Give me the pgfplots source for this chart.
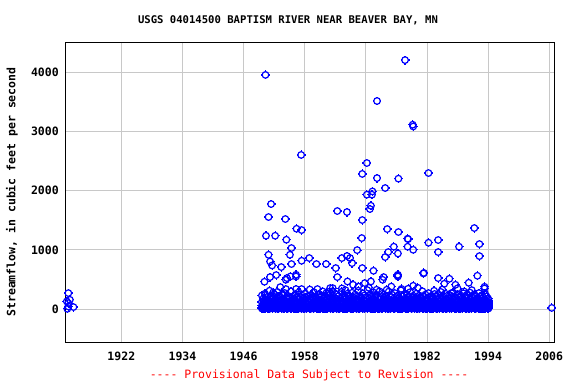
\documentclass[border=0pt]{standalone}
\usepackage{pgfplots}
\usepackage{pgfplotstable}
\pgfplotsset{compat=1.18}
\usepackage{fontspec}
\setmonofont{DejaVu Sans Mono}
\definecolor{gridgray}{RGB}{200,200,200}
\definecolor{ptblue}{RGB}{0,0,255}
\definecolor{revred}{RGB}{255,0,0}

\pgfdeclareplotmark{tcirc}{%
  \pgfpathcircle{\pgfpointorigin}{\pgfplotmarksize}%
  \pgfusepathqstroke
  \pgfpathmoveto{\pgfpoint{0pt}{\pgfplotmarksize}}\pgfpathlineto{\pgfpoint{0pt}{1.35\pgfplotmarksize}}%
  \pgfpathmoveto{\pgfpoint{0pt}{-\pgfplotmarksize}}\pgfpathlineto{\pgfpoint{0pt}{-1.35\pgfplotmarksize}}%
  \pgfpathmoveto{\pgfpoint{\pgfplotmarksize}{0pt}}\pgfpathlineto{\pgfpoint{1.35\pgfplotmarksize}{0pt}}%
  \pgfpathmoveto{\pgfpoint{-\pgfplotmarksize}{0pt}}\pgfpathlineto{\pgfpoint{-1.35\pgfplotmarksize}{0pt}}%
  \pgfusepathqstroke}

\pgfplotstableread{
t a b c d e
1949.6 10 55 120 230 30
1949.9 15 70 140 180 95
1950.2 8 45 110 260 25
1950.5 20 80 150 200 110
1950.8 12 60 95 170 35
1951.1 5 50 130 310 90
1951.4 18 75 160 220 28
1951.7 10 40 100 190 105
1952.0 25 85 145 250 40
1952.3 7 55 115 175 85
1952.6 14 65 135 290 30
1952.9 9 50 105 210 115
1953.2 22 70 150 185 35
1953.5 11 60 125 240 90
1953.8 6 45 100 165 25
1954.1 16 80 140 270 100
1954.4 13 55 120 200 38
1954.7 8 65 155 225 88
1955.0 19 50 110 180 30
1955.3 10 75 130 300 110
1955.6 24 60 145 210 33
1955.9 7 45 100 170 95
1956.2 15 70 135 250 27
1956.5 12 55 120 195 105
1956.8 9 85 160 280 40
1957.1 20 60 115 205 90
1957.4 6 50 140 230 30
1957.7 17 75 125 180 100
1958.0 11 65 150 260 35
1958.3 8 45 105 190 85
1958.6 21 80 135 220 28
1958.9 13 55 120 175 110
1959.2 5 70 145 240 38
1959.5 18 60 110 200 92
1959.8 10 50 130 285 30
1960.1 23 75 155 215 100
1960.4 9 45 100 180 35
1960.7 14 65 140 250 88
1961.0 7 55 115 195 27
1961.3 19 80 150 230 105
1961.6 12 60 125 170 40
1961.9 6 45 105 210 95
1962.2 16 70 140 265 30
1962.5 11 55 120 190 110
1962.8 25 85 160 240 33
1963.1 8 50 110 175 90
1963.4 15 65 135 300 28
1963.7 10 75 145 205 100
1964.0 20 55 115 185 38
1964.3 7 45 130 250 85
1964.6 13 70 150 220 30
1964.9 9 60 100 175 108
1965.2 22 80 140 290 35
1965.5 12 50 125 200 92
1965.8 6 65 155 235 27
1966.1 17 55 110 185 100
1966.4 10 75 135 260 40
1966.7 24 60 120 210 88
1967.0 8 45 145 180 30
1967.3 15 70 130 275 110
1967.6 11 55 105 195 35
1967.9 19 85 160 245 95
1968.2 7 50 115 170 28
1968.5 14 65 140 310 105
1968.8 9 75 150 220 38
1969.1 21 60 125 190 90
1969.4 12 45 100 265 30
1969.7 6 70 145 230 100
1970.0 18 55 135 200 33
1970.3 10 80 155 320 85
1970.6 23 60 120 185 27
1970.9 8 50 140 250 110
1971.2 16 75 110 215 40
1971.5 13 65 130 280 92
1971.8 9 45 150 195 30
1972.1 20 70 125 240 100
1972.4 11 55 105 175 35
1972.7 7 85 160 300 88
1973.0 15 60 115 205 28
1973.3 12 50 140 260 108
1973.6 22 75 130 190 38
1973.9 8 65 150 225 95
1974.2 17 45 110 180 30
1974.5 10 70 135 295 105
1974.8 6 55 120 210 35
1975.1 19 80 145 245 90
1975.4 13 60 100 175 27
1975.7 9 50 140 270 100
1976.0 24 75 155 200 40
1976.3 11 65 125 230 85
1976.6 7 45 110 185 30
1976.9 15 70 135 315 110
1977.2 10 55 150 215 33
1977.5 20 85 120 250 92
1977.8 8 60 105 180 28
1978.1 14 50 145 240 100
1978.4 12 75 130 205 38
1978.7 18 65 160 285 88
1979.0 6 45 115 190 30
1979.3 21 70 140 225 105
1979.6 9 55 125 175 35
1979.9 16 80 150 260 95
1980.2 11 60 110 200 27
1980.5 7 50 135 230 108
1980.8 23 75 145 185 40
1981.1 13 65 120 300 90
1981.4 8 45 100 210 30
1981.7 17 70 155 245 100
1982.0 10 55 130 180 35
1982.3 25 85 140 270 85
1982.6 9 60 115 195 28
1982.9 14 50 150 225 110
1983.2 12 75 125 175 38
1983.5 19 65 105 255 92
1983.8 6 45 140 205 30
1984.1 15 70 160 240 100
1984.4 11 55 120 185 33
1984.7 22 80 135 290 88
1985.0 8 60 110 215 27
1985.3 16 50 145 190 105
1985.6 10 75 130 260 40
1985.9 7 65 150 220 95
1986.2 20 45 115 180 30
1986.5 13 70 125 235 110
1986.8 9 55 140 200 35
1987.1 18 85 105 275 90
1987.4 12 60 155 210 28
1987.7 6 50 120 185 100
1988.0 24 75 135 250 38
1988.3 10 65 145 195 85
1988.6 15 45 110 230 30
1988.9 8 70 130 175 108
1989.2 21 55 150 265 35
1989.5 11 80 125 205 95
1989.8 7 60 100 240 27
1990.1 17 50 140 185 100
1990.4 13 75 160 280 40
1990.7 9 65 115 210 88
1991.0 19 45 135 195 30
1991.3 12 70 120 250 105
1991.6 6 55 145 220 33
1991.9 23 85 130 180 92
1992.2 10 60 110 270 28
1992.5 14 50 150 205 110
1992.8 8 75 125 235 38
1993.1 16 65 140 190 90
1993.4 11 45 105 260 30
1993.7 20 70 135 215 100
1994.0 9 55 120 180 35
1994.1 15 40 90 150 80
}\band

\pgfplotstableread{
t q
1911.6 270
1911.3 130
1911.9 157
1911.6 100
1911.6 44
1911.4 5
1912.6 34
2006.5 20
1950.3 3950
1957.3 2600
1972.2 3510
1977.7 4200
1979.2 3110
1979.3 3080
1970.2 2464
1969.3 2280
1972.2 2210
1976.4 2200
1973.8 2042
1970.2 1930
1971.3 1985
1971.2 1930
1951.4 1772
1971.0 1743
1970.8 1688
1950.9 1553
1964.4 1654
1966.3 1637
1969.3 1502
1954.2 1519
1956.4 1355
1957.4 1333
1974.2 1350
1976.4 1300
1950.4 1237
1952.2 1237
1954.4 1170
1969.2 1198
1978.2 1187
1955.4 1030
1968.3 995
1975.5 1052
1974.4 962
1973.8 878
1976.3 938
1978.2 1052
1950.9 916
1955.1 916
1951.2 803
1951.6 736
1958.9 861
1957.4 815
1965.3 861
1966.3 895
1966.9 861
1960.3 760
1962.2 760
1967.3 776
1955.4 760
1953.4 709
1964.1 692
1969.3 692
1971.5 646
1952.4 574
1950.1 461
1951.2 540
1955.2 550
1956.3 579
1956.3 550
1954.5 523
1964.4 540
1966.4 466
1971.0 466
1973.5 540
1973.3 494
1976.3 579
1976.3 550
1953.2 371
1954.3 494
1954.3 338
1950.2 236
1956.3 338
1957.4 338
1960.5 338
1963.0 354
1963.5 354
1965.3 348
1967.5 410
1968.5 381
1969.8 439
1972.1 326
1974.1 326
1951.8 280
1953.7 241
1982.3 2295
1978.3 1181
1979.3 1000
1982.3 1119
1984.2 1165
1984.2 962
1988.3 1052
1991.3 1367
1992.3 1097
1992.3 894
1976.2 567
1981.3 601
1981.4 610
1984.2 523
1986.4 511
1985.4 427
1987.6 410
1990.2 444
1991.9 562
1993.3 376
1993.3 348
1978.3 343
1979.3 393
1983.4 309
1986.8 270
1989.3 297
1959.0 330
1961.5 300
1962.8 290
1966.0 320
1970.6 360
1975.0 380
1977.0 340
1980.2 360
1985.0 330
1988.0 350
1990.8 320
}\high

\pgfplotsset{ptstyle/.style={only marks, mark=tcirc, draw=ptblue, mark size=3.3pt, line width=1.2pt}}

\begin{document}
\begin{tikzpicture}
\begin{axis}[
  at={(0pt,0pt)}, anchor=south west,
  scale only axis, width=489pt, height=300pt,
  xmin=1911, xmax=2007, ymin=-560, ymax=4500,
  xtick={1922,1934,1946,1958,1970,1982,1994,2006},
  ytick={0,1000,2000,3000,4000},
  xticklabels={1922,1934,1946,1958,1970,1982,1994,2006},
  yticklabels={0,1000,2000,3000,4000},
  major tick length=0pt,
  grid=major,
  major grid style={gridgray, line width=0.8pt},
  axis line style={black, line width=1.2pt},
  ticklabel style={font=\ttfamily\bfseries\fontsize{11.5}{13}\selectfont},
  xticklabel style={yshift=-6pt},
  yticklabel style={xshift=-3pt},
  /pgf/number format/assume math mode=true,
]
\addplot[ptstyle] table[x=t,y=a]{\band};
\addplot[ptstyle] table[x=t,y=e]{\band};
\addplot[ptstyle] table[x=t,y=b]{\band};
\addplot[ptstyle] table[x=t,y=c]{\band};
\addplot[ptstyle] table[x=t,y=d]{\band};
\addplot[ptstyle] table[x=t,y=q]{\high};
\end{axis}
\node[font=\ttfamily\bfseries\fontsize{10.6}{13}\selectfont, anchor=center] at (222.7pt,322.3pt) {USGS 04014500 BAPTISM RIVER NEAR BEAVER BAY, MN};
\node[font=\ttfamily\bfseries\fontsize{11.5}{13}\selectfont, anchor=center, rotate=90] at (-53.3pt,150.3pt) {Streamflow, in cubic feet per second};
\node[font=\ttfamily\fontsize{11.5}{13}\selectfont, text=revred, anchor=center] at (243.7pt,-32.7pt) {---- Provisional Data Subject to Revision ----};
\pgfresetboundingbox
\path[use as bounding box] (-65.3pt,-41.7pt) rectangle (510.7pt,342.3pt);
\end{tikzpicture}
\end{document}
